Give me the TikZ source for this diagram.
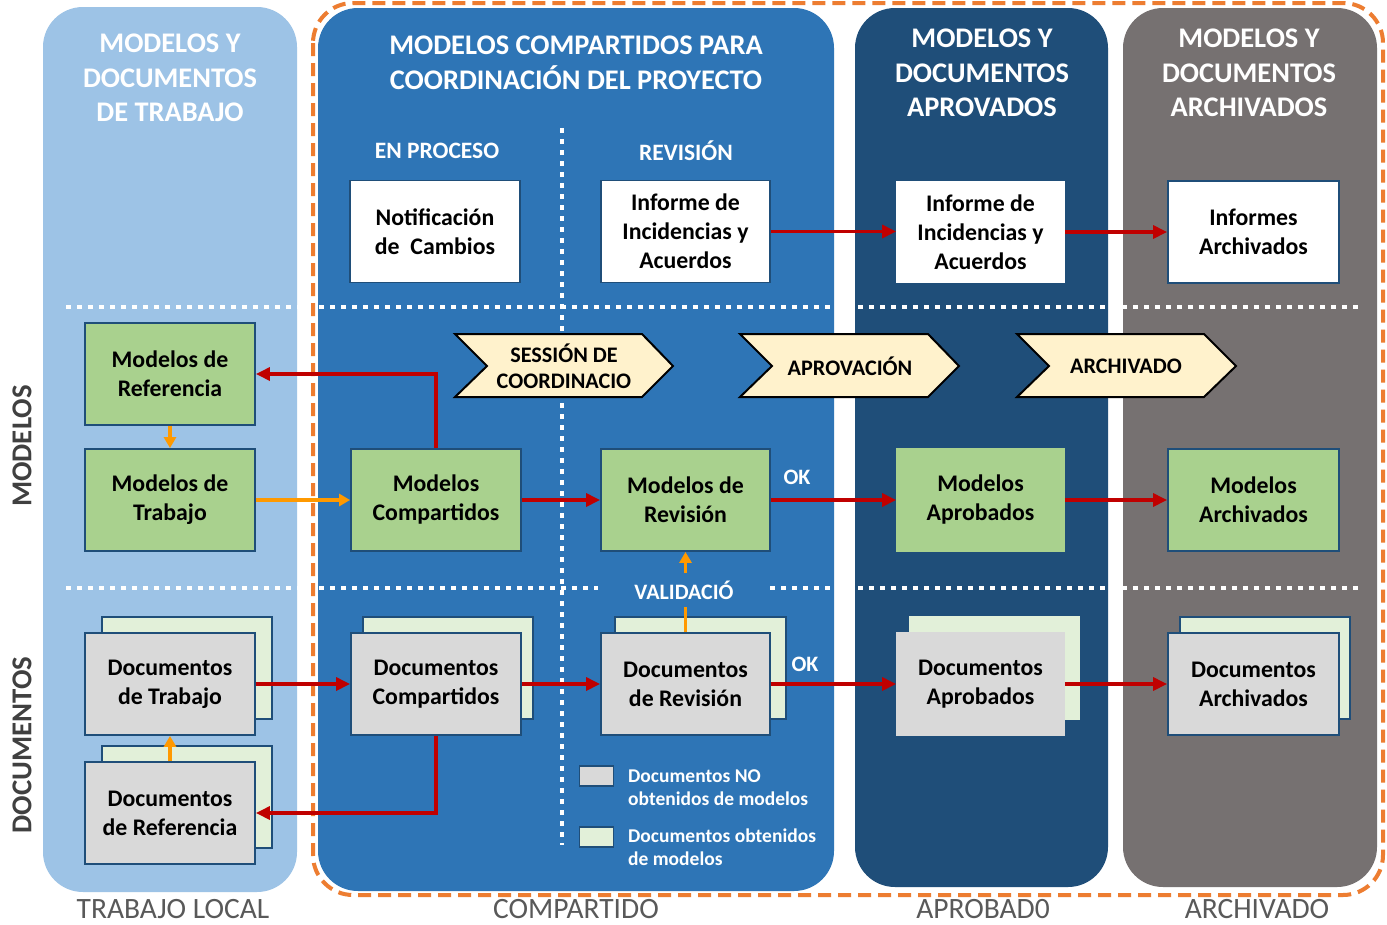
\documentclass[tikz,border=0pt]{standalone}
\usepackage{fontspec}
\setmainfont{Carlito}
\usetikzlibrary{arrows.meta}
\definecolor{cTrab}{HTML}{9DC3E6}
\definecolor{cComp}{HTML}{2E75B6}
\definecolor{cApr}{HTML}{1F4E79}
\definecolor{cArch}{HTML}{767171}
\definecolor{cOrBorder}{HTML}{ED7D31}
\definecolor{cGreen}{HTML}{A9D18E}
\definecolor{cLGreen}{HTML}{E2F0D9}
\definecolor{cGray}{HTML}{D9D9D9}
\definecolor{cCream}{HTML}{FFF2CC}
\definecolor{cRed}{HTML}{C00000}
\definecolor{cOrArrow}{HTML}{FF9900}
\definecolor{cBoxBorder}{HTML}{1F4E79}
\definecolor{cLabel}{HTML}{595959}
\definecolor{cVLabel}{HTML}{404040}
\newcommand\bxfont{\fontsize{23.8}{29}\selectfont\bfseries}
\begin{document}
\begin{tikzpicture}[x=1pt,y=-1pt,
  col/.style={rounded corners=40pt},
  ttl/.style={text=white, font=\fontsize{28.4}{34.5}\selectfont\bfseries, align=center, inner sep=0pt},
  subttl/.style={text=white, font=\fontsize{23.5}{25}\selectfont\bfseries, inner sep=0pt},
  box/.style={draw=cBoxBorder, line width=1.8pt, minimum width=170pt, minimum height=102pt, inner sep=0pt, align=center, font=\bxfont},
  wbox/.style={box, fill=white},
  gbox/.style={box, fill=cGreen},
  dbox/.style={box, fill=cGray},
  dback/.style={box, fill=cLGreen},
  chev/.style={draw=black, line width=2pt, fill=cCream, line join=miter},
  chevtxt/.style={font=\fontsize{22.2}{26}\selectfont\bfseries, align=center, inner sep=0pt},
  dots/.style={draw=white, line width=4pt, dash pattern=on 5pt off 6pt},
  rarr/.style={draw=cRed, line width=3.2pt, -{Triangle[length=14pt,width=13pt]}},
  oarr/.style={draw=cOrArrow, line width=3.2pt, -{Triangle[length=11pt,width=12pt]}},
  wlab/.style={text=white, font=\fontsize{22}{25}\selectfont\bfseries, inner sep=0pt},
  legbox/.style={draw=cBoxBorder, line width=1.8pt, minimum width=34pt, minimum height=20pt, inner sep=0pt},
  legtxt/.style={text=white, font=\fontsize{19.5}{23}\selectfont\bfseries, align=left, inner sep=0pt, anchor=west},
  blab/.style={text=cLabel, font=\fontsize{29.5}{32}\selectfont, inner sep=0pt},
  vlab/.style={text=cVLabel, font=\fontsize{28.8}{32}\selectfont\bfseries, inner sep=0pt, rotate=90}
]
\useasboundingbox (0,0) rectangle (1387,924);
\fill[white] (0,0) rectangle (1387,924);
% columns
\fill[cTrab, col] (43,7) rectangle (297,892);
\fill[cComp, col] (318,8) rectangle (834,891);
\fill[cApr, col] (855,8) rectangle (1108,887);
\fill[cArch, col] (1123,8) rectangle (1377,887);
% dotted separators
\draw[dots] (66,307) -- (1358,307);
\draw[dots] (66,588) -- (1358,588);
\draw[dots] (562,128) -- (562,845);
% orange dashed border
\draw[cOrBorder, line width=4pt, dash pattern=on 13pt off 7pt, rounded corners=40pt] (313,3) rectangle (1383,895);
% titles
\node[ttl] (t1) at (170,78) {MODELOS Y\\DOCUMENTOS\\DE TRABAJO};
\node[ttl] (t2) at (576,63) {MODELOS COMPARTIDOS PARA\\COORDINACIÓN DEL PROYECTO};
\node[ttl] (t3) at (982,73) {MODELOS Y\\DOCUMENTOS\\APROVADOS};
\node[ttl] (t4) at (1249,73) {MODELOS Y\\DOCUMENTOS\\ARCHIVADOS};
\node[subttl] (s1) at (437,151) {EN PROCESO};
\node[subttl] (s2) at (686,151) {REVISIÓN};
% chevrons
\draw[chev] (455,334) -- (642,334) -- (673,366) -- (642,397) -- (455,397) -- (487,366) -- cycle;
\node[chevtxt] (c1) at (564,366) {SESSIÓN DE\\COORDINACIO};
\draw[chev] (740,334) -- (928,334) -- (959,366) -- (928,397) -- (740,397) -- (772,366) -- cycle;
\node[chevtxt] (c2) at (850,366) {APROVACIÓN};
\draw[chev] (1017,334) -- (1204,334) -- (1236,366) -- (1204,397) -- (1017,397) -- (1049,366) -- cycle;
\node[chevtxt] (c3) at (1126,366) {ARCHIVADO};
% row 1
\node[wbox] (nc) at (435,231.5) {Notificación\\de\ \ Cambios};
\node[wbox, minimum width=169pt] (ir) at (685.5,231.5) {Informe de\\Incidencias y\\Acuerdos};
\node[wbox, minimum width=167pt, minimum height=100pt, draw=white] (ia) at (980.5,232) {Informe de\\Incidencias y\\Acuerdos};
\node[wbox, minimum width=171pt] (iarch) at (1253.5,232) {Informes\\Archivados};
% row 2
\node[gbox] (mr) at (170,374) {Modelos de\\Referencia};
\node[gbox] (mt) at (170,500) {Modelos de\\Trabajo};
\node[gbox] (mc) at (436,500) {Modelos\\Compartidos};
\node[gbox, minimum width=169pt] (mrev) at (685.5,500) {Modelos de\\Revisión};
\node[gbox, minimum width=167pt, draw=cGreen] (mapr) at (980.5,500) {Modelos\\Aprobados};
\node[gbox, minimum width=171pt] (march) at (1253.5,500) {Modelos\\Archivados};
% row 3 back sheets
\node[dback] (dtb) at (187,668) {};
\node[dback] (drb) at (187,797) {};
\node[dback] (dcb) at (448,668) {};
\node[dback, minimum width=171pt] (drevb) at (700.5,668) {};
\node[dback, minimum width=169pt, draw=cLGreen] (daprb) at (994.5,668) {};
\node[dback] (darchb) at (1265,668) {};
% row 3 front sheets
\node[dbox] (dt) at (170,684) {Documentos\\de Trabajo};
\node[dbox] (dr) at (170,813) {Documentos\\de Referencia};
\node[dbox] (dc) at (436,684) {Documentos\\Compartidos};
\node[dbox, minimum width=169pt] (drev) at (685.5,684) {Documentos\\de Revisión};
\node[dbox, minimum width=167pt, draw=cGray] (dapr) at (980.5,684) {Documentos\\Aprobados};
\node[dbox, minimum width=171pt] (darch) at (1253.5,684) {Documentos\\Archivados};
% red connectors
\draw[rarr] (mc.north) |- (mr.east);
\draw[rarr] (mc.east) -- (mrev.west);
\draw[rarr] (mrev.east) -- (mapr.west);
\draw[rarr] (mapr.east) -- (march.west);
\draw[rarr] (ir.east) -- (ir.east -| ia.west);
\draw[rarr] (ia.east) -- (ia.east -| iarch.west);
\draw[rarr] (dt.east) -- (dc.west);
\draw[rarr] (dc.east) -- (drev.west);
\draw[rarr] (drev.east) -- (dapr.west);
\draw[rarr] (dapr.east) -- (darch.west);
\draw[rarr] (dc.south) |- (dr.east);
% orange connectors
\draw[oarr] (mr.south) -- (mt.north);
\draw[oarr] (mt.east) -- (mc.west);
\draw[oarr] (drev.north) -- (mrev.south);
\draw[oarr] (dr.north) -- (dt.south);
% labels
\node[wlab, fill=cComp, minimum width=172pt, minimum height=34pt] (val) at (684,590) {VALIDACIÓ};
\node[wlab] (ok1) at (797,477) {OK};
\node[wlab] (ok2) at (805,664) {OK};
% legend
\node[legbox, fill=cGray] (lg1) at (596.5,776) {};
\node[legbox, fill=cLGreen] (lg2) at (596.5,837) {};
\node[legtxt] (lt1) at (628,787.5) {Documentos NO\\obtenidos de modelos};
\node[legtxt] (lt2) at (628,847.5) {Documentos obtenidos\\de modelos};
% bottom and side labels
\node[blab] (b1) at (173,909) {TRABAJO LOCAL};
\node[blab] (b2) at (576,909) {COMPARTIDO};
\node[blab] (b3) at (983,909) {APROBAD0};
\node[blab] (b4) at (1257,909) {ARCHIVADO};
\node[vlab] (v1) at (22,446) {MODELOS};
\node[vlab] (v2) at (22,745) {DOCUMENTOS};
\end{tikzpicture}
\end{document}
